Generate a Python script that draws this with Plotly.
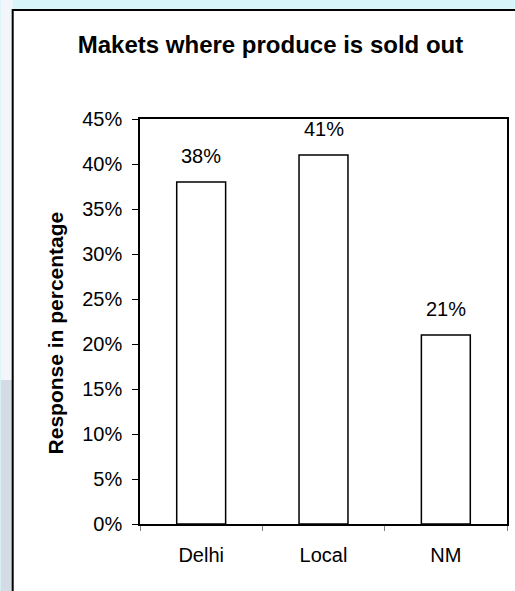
import plotly.graph_objects as go

categories = ["Delhi", "Local", "NM"]
values = [0.38, 0.41, 0.21]
value_labels = ["38%", "41%", "21%"]
title_text = "Makets where produce is sold out"
y_title = "Response in percentage"

W, H = 515, 591
L, R, T, B = 140, 6, 119, 67
pw = W - L - R
ph = H - T - B

def px_x(px):
    return (px - L) / pw

def px_y(py):
    return (H - B - py) / ph

FONT = "Liberation Sans, Arial, sans-serif"

fig = go.Figure()
fig.add_trace(go.Bar(
    x=categories, y=values, width=0.4,
    marker=dict(color="white", line=dict(color="black", width=1.5)),
    hoverinfo="skip",
))

for c, v, t in zip(categories, values, value_labels):
    fig.add_annotation(x=c, y=v, text=t, showarrow=False, yshift=26,
                       yanchor="middle", font=dict(size=20, color="black", family=FONT))

shapes = []
# background patches on left edge
shapes.append(dict(type="rect", xref="paper", yref="paper", x0=px_x(0), x1=px_x(12),
                   y0=px_y(591), y1=px_y(380), fillcolor="#d3dbe4", line=dict(width=0), layer="below"))
shapes.append(dict(type="rect", xref="paper", yref="paper", x0=px_x(0), x1=px_x(12),
                   y0=px_y(380), y1=px_y(0), fillcolor="#f2f6fa", line=dict(width=0), layer="below"))
# outer white box
shapes.append(dict(type="rect", xref="paper", yref="paper", x0=px_x(12), x1=px_x(530),
                   y0=px_y(600), y1=px_y(10), fillcolor="white",
                   line=dict(color="black", width=2), layer="below"))
fig.update_layout(shapes=shapes)

fig.add_annotation(xref="paper", yref="paper", x=px_x(55), y=px_y(333), text="<b>%s</b>" % y_title,
                   xanchor="center", yanchor="middle",
                   textangle=-90, showarrow=False, font=dict(size=21, color="black", family=FONT))

fig.update_layout(
    width=W, height=H,
    margin=dict(l=L, r=R, t=T, b=B, pad=0),
    paper_bgcolor="#d8f6fa",
    plot_bgcolor="white",
    showlegend=False,
    title=dict(text="<b>%s</b>" % title_text, x=270.5 / W, xanchor="center",
               y=1 - 45 / H, yanchor="middle", xref="container", yref="container",
               font=dict(size=24, color="black", family=FONT)),
    font=dict(family=FONT, color="black", size=20),
)
fig.update_xaxes(
    type="category", showline=True, linecolor="black", linewidth=1.5, mirror=True,
    ticks="outside", tickson="boundaries", ticklen=5, tickcolor="#808080",
    ticklabelstandoff=12,
    tickfont=dict(size=20, family=FONT, color="black"), showgrid=False,
)
fig.update_yaxes(
    range=[0, 0.45], dtick=0.05, tick0=0, tickformat=".0%",
    showline=True, linecolor="black", linewidth=1.5, mirror=True,
    ticks="outside", ticklen=6, tickcolor="black", ticklabelstandoff=6,
    tickfont=dict(size=20, family=FONT, color="black"), showgrid=False, zeroline=False,
)

fig.write_html("out.html")
